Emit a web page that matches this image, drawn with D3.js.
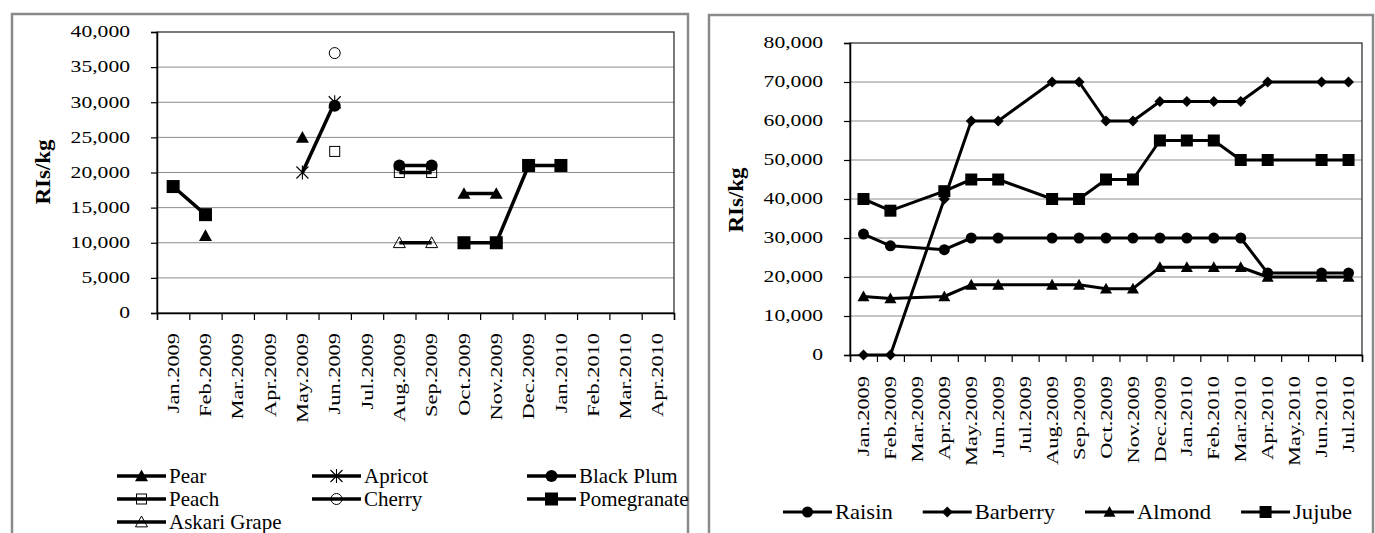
<!DOCTYPE html>
<html><head><meta charset="utf-8">
<script src="https://cdn.jsdelivr.net/npm/d3@7"></script>
<style>
html,body{margin:0;padding:0;background:#fff;}
svg text{font-family:"Liberation Serif","Times New Roman","DejaVu Serif",serif;fill:#000;}
</style></head>
<body>
<svg id="c" width="1375" height="533" font-family="Liberation Serif, Times New Roman, DejaVu Serif, serif"></svg>
<script>
// ---------- DATA ----------
const leftMonths = ["Jan.2009","Feb.2009","Mar.2009","Apr.2009","May.2009","Jun.2009","Jul.2009","Aug.2009","Sep.2009","Oct.2009","Nov.2009","Dec.2009","Jan.2010","Feb.2010","Mar.2010","Apr.2010"];
const pear        = [null,11000,null,null,25000,null,null,null,null,17000,17000,null,null,null,null,null];
const apricot     = [null,null,null,null,20000,30000,null,null,null,null,null,null,null,null,null,null];
const blackPlum   = [null,null,null,null,null,29500,null,21000,21000,null,null,null,null,null,null,null];
const peach       = [null,null,null,null,null,23000,null,20000,20000,null,null,null,null,null,null,null];
const cherry      = [null,null,null,null,null,37000,null,null,null,null,null,null,null,null,null,null];
const pomegranate = [18000,14000,null,null,null,null,null,null,null,10000,10000,21000,21000,null,null,null];
const askariGrape = [null,null,null,null,null,null,null,10000,10000,null,null,null,null,null,null,null];
const leftTicks = [0,5000,10000,15000,20000,25000,30000,35000,40000];

const rightMonths = ["Jan.2009","Feb.2009","Mar.2009","Apr.2009","May.2009","Jun.2009","Jul.2009","Aug.2009","Sep.2009","Oct.2009","Nov.2009","Dec.2009","Jan.2010","Feb.2010","Mar.2010","Apr.2010","May.2010","Jun.2010","Jul.2010"];
const raisin   = [31000,28000,null,27000,30000,30000,null,30000,30000,30000,30000,30000,30000,30000,30000,21000,null,21000,21000];
const barberry = [0,0,null,40000,60000,60000,null,70000,70000,60000,60000,65000,65000,65000,65000,70000,null,70000,70000];
const almond   = [15000,14500,null,15000,18000,18000,null,18000,18000,17000,17000,22500,22500,22500,22500,20000,null,20000,20000];
const jujube   = [40000,37000,null,42000,45000,45000,null,40000,40000,45000,45000,55000,55000,55000,50000,50000,null,50000,50000];
const rightTicks = [0,10000,20000,30000,40000,50000,60000,70000,80000];

const leftSeries = [
  {name:"Pear", values:pear, marker:"triangle"},
  {name:"Apricot", values:apricot, marker:"asterisk"},
  {name:"Black Plum", values:blackPlum, marker:"circle"},
  {name:"Peach", values:peach, marker:"squareOpen"},
  {name:"Cherry", values:cherry, marker:"circleOpen"},
  {name:"Pomegranate", values:pomegranate, marker:"square"},
  {name:"Askari Grape", values:askariGrape, marker:"triangleOpen"}
];
const rightSeries = [
  {name:"Raisin", values:raisin, marker:"circleR"},
  {name:"Barberry", values:barberry, marker:"diamond"},
  {name:"Almond", values:almond, marker:"triangleR"},
  {name:"Jujube", values:jujube, marker:"squareR"}
];

// ---------- HELPERS ----------
const svg = d3.select("#c");
const fmt = d3.format(",");

function marker(g, type, x, y){
  const m = g.append("g").attr("transform",`translate(${x},${y})`);
  const tri = (s)=>{const h=s*0.9;return `M0,${-h*0.55}L${s/2},${h*0.45}L${-s/2},${h*0.45}Z`;};
  switch(type){
    case "triangle": m.append("path").attr("d",tri(13)).attr("fill","#000"); break;
    case "triangleR": m.append("path").attr("d",tri(12)).attr("fill","#000"); break;
    case "triangleOpen": m.append("path").attr("d",tri(12)).attr("fill","none").attr("stroke","#000").attr("stroke-width",1); break;
    case "square": m.append("rect").attr("x",-6.5).attr("y",-6.5).attr("width",13).attr("height",13).attr("fill","#000"); break;
    case "squareR": m.append("rect").attr("x",-6).attr("y",-6).attr("width",12).attr("height",12).attr("fill","#000"); break;
    case "squareOpen": m.append("rect").attr("x",-5).attr("y",-5).attr("width",10).attr("height",10).attr("fill","none").attr("stroke","#000").attr("stroke-width",1); break;
    case "circle": m.append("circle").attr("r",6).attr("fill","#000"); break;
    case "circleR": m.append("circle").attr("r",5.5).attr("fill","#000"); break;
    case "circleOpen": m.append("circle").attr("r",5.5).attr("fill","none").attr("stroke","#000").attr("stroke-width",1); break;
    case "diamond": m.append("path").attr("d","M0,-5.5L5.5,0L0,5.5L-5.5,0Z").attr("fill","#000"); break;
    case "asterisk": m.append("path").attr("d","M-6,-6L6,6M-6,6L6,-6M0,-7L0,7").attr("stroke","#000").attr("stroke-width",1.1).attr("fill","none"); break;
  }
}

function drawChart(cfg){
  const g = svg.append("g");
  g.append("rect").attr("x",cfg.frame[0]).attr("y",cfg.frame[1]).attr("width",cfg.frame[2]).attr("height",cfg.frame[3])
    .attr("fill","none").attr("stroke","#8a8a8a").attr("stroke-width",2.5);
  const x = d3.scaleBand().domain(cfg.months).range([cfg.x0,cfg.x1]).padding(0);
  const y = d3.scaleLinear().domain([0,cfg.ymax]).range([cfg.yb,cfg.yt]);
  const cx = (i)=> x(cfg.months[i]) + x.bandwidth()/2;
  g.append("g").selectAll("line").data(cfg.ticks.filter(t=>t>0&&t<cfg.ymax)).join("line")
    .attr("x1",cfg.x0).attr("x2",cfg.x1).attr("y1",d=>y(d)).attr("y2",d=>y(d))
    .attr("stroke","#8c8c8c").attr("stroke-width",1);
  g.append("rect").attr("x",cfg.x0).attr("y",cfg.yt).attr("width",cfg.x1-cfg.x0).attr("height",cfg.yb-cfg.yt)
    .attr("fill","none").attr("stroke","#222").attr("stroke-width",1.2);
  const ya = g.append("g").attr("transform",`translate(${cfg.x0},0)`)
    .call(d3.axisLeft(y).tickValues(cfg.ticks).tickSize(6).tickPadding(0).tickFormat(()=>""));
  ya.select(".domain").attr("stroke","#000").attr("stroke-width",1.5);
  ya.selectAll(".tick line").attr("stroke","#000").attr("stroke-width",1.2);
  g.append("g").selectAll("text").data(cfg.ticks).join("text")
    .attr("transform",d=>`translate(${cfg.labelRight},${y(d)}) scale(1.35,1)`)
    .attr("text-anchor","end").attr("dy","0.33em").attr("font-size",16).text(d=>fmt(d));
  const xb = d3.scaleLinear().domain([0,cfg.months.length]).range([cfg.x0,cfg.x1]);
  const xa = g.append("g").attr("transform",`translate(0,${cfg.yb})`)
    .call(d3.axisBottom(xb).tickValues(d3.range(cfg.months.length+1)).tickSize(7).tickFormat(()=>""));
  xa.select(".domain").attr("stroke","#000").attr("stroke-width",1.5);
  xa.selectAll(".tick line").attr("stroke","#000").attr("stroke-width",1.2);
  g.append("g").selectAll("text").data(cfg.months).join("text")
    .attr("transform",(d,i)=>`translate(${cx(i)},${cfg.yb+cfg.labelGap}) rotate(-90) scale(1.4,1)`)
    .attr("text-anchor","end").attr("dy","0.35em").attr("font-size",16).text(d=>d);
  g.append("text").attr("transform",`translate(${cfg.titleX},${cfg.titleY}) rotate(-90) scale(1.15,1)`)
    .attr("text-anchor","middle").attr("dy","0.35em").attr("font-size",20).attr("font-weight","bold").text("RIs/kg");
  cfg.series.forEach(s=>{
    const pts = s.values.map((v,i)=>({i,v}));
    const line = d3.line().x(d=>cx(d.i)).y(d=>y(d.v)).defined(d=>d.v!==null);
    const data = cfg.connectGaps ? pts.filter(d=>d.v!==null) : pts;
    g.append("path").attr("d",line(data))
      .attr("fill","none").attr("stroke","#000").attr("stroke-width",cfg.lw).attr("stroke-linejoin","round");
    pts.filter(d=>d.v!==null).forEach(d=>marker(g,s.marker,cx(d.i),y(d.v)));
  });
  return g;
}

drawChart({frame:[12,14,676,560], months:leftMonths, x0:157, x1:674, yt:32, yb:313, ymax:40000,
  ticks:leftTicks, labelRight:130, labelGap:20, titleX:43, titleY:172, series:leftSeries, lw:3.5, connectGaps:false});
drawChart({frame:[709,15,664,560], months:rightMonths, x0:850, x1:1362, yt:43, yb:355, ymax:80000,
  ticks:rightTicks, labelRight:823, labelGap:21, titleX:736, titleY:200, series:rightSeries, lw:3, connectGaps:true});

// ---------- LEGENDS ----------
function legendItem(x, y, s, lw, sc){
  const g = svg.append("g");
  g.append("line").attr("x1",x).attr("x2",x+49).attr("y1",y).attr("y2",y).attr("stroke","#000").attr("stroke-width",lw);
  marker(g, s.marker, x+24.5, y);
  const t = g.append("text").attr("transform",`translate(${x+52},${y}) scale(${sc},1)`).attr("dy","0.33em")
    .attr("font-size",20).text(s.name);
  return x + 52 + t.node().getComputedTextLength()*sc;
}
const lcols = [117,312,527], lrows = [476,499,522];
leftSeries.forEach((s,k)=>legendItem(lcols[k%3], lrows[Math.floor(k/3)], s, 3.5, 1.05));
let rx = 783;
rightSeries.forEach(s=>{ rx = legendItem(rx, 512, s, 3, 1.13) + 30; });
</script>
</body></html>
